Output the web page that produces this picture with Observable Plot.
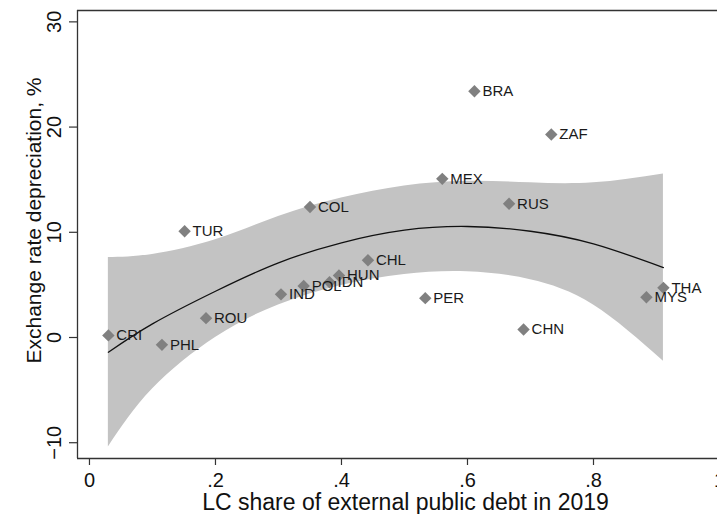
<!DOCTYPE html>
<html><head><meta charset="utf-8">
<script src="https://cdn.jsdelivr.net/npm/d3@7"></script>
<script src="https://cdn.jsdelivr.net/npm/@observablehq/plot@0.6"></script>
<style>html,body{margin:0;padding:0;background:#fff;overflow:hidden}</style>
</head><body><div id="chart"></div>
<script>
const countries = ["CRI","PHL","ROU","TUR","IND","COL","POL","IDN","HUN","CHL","PER","MEX","BRA","RUS","CHN","ZAF","MYS","THA"];
const lcShare = [0.030,0.115,0.185,0.151,0.304,0.350,0.340,0.381,0.396,0.442,0.533,0.560,0.611,0.666,0.689,0.733,0.884,0.911];
const depreciation = [0.2,-0.7,1.84,10.1,4.1,12.4,4.9,5.26,5.89,7.35,3.74,15.08,23.41,12.71,0.76,19.3,3.83,4.72];

const fitX = [0.03,0.1,0.2,0.3,0.4,0.5,0.6,0.7,0.8,0.911];
const fitY = [-1.4,1.3,4.4,7.1,9.0,10.2,10.55,10.1,8.9,6.65];
const ciUpper = [7.6,7.9,9.3,11.5,13.25,14.4,14.85,14.7,14.7,15.55];
const ciLower = [-10.4,-4.9,0.0,3.1,4.95,6.0,6.25,5.5,3.1,-2.25];

const xTicks = [0,0.2,0.4,0.6,0.8,1];
const xTickLabels = ["0",".2",".4",".6",".8","1"];
const yTicks = [-10,0,10,20,30];
const yTickLabels = ["\u221210","0","10","20","30"];
const xTitle = "LC share of external public debt in 2019";
const yTitle = "Exchange rate depreciation, %";

const points = countries.map((c,i)=>({c, x: lcShare[i], y: depreciation[i]}));
const fit = fitX.map((x,i)=>({x, y: fitY[i], lo: ciLower[i], hi: ciUpper[i]}));

const xDom = [-0.019, 1.0];
const yDom = [-11.5, 31.08];
const axisColor = "#333";

const chart = Plot.plot({
  width: 717,
  height: 514,
  marginLeft: 77,
  marginRight: 0,
  marginTop: 10,
  marginBottom: 56,
  style: {fontFamily: "'Liberation Sans', Arial, Helvetica, sans-serif", color: "#111", background: "#fff"},
  x: {domain: xDom, range: [77, 719]},
  y: {domain: yDom},
  marks: [
    Plot.areaY(fit, {x: "x", y1: "lo", y2: "hi", fill: "#c3c3c3", curve: "natural"}),
    Plot.line(fit, {x: "x", y: "y", stroke: "#111", strokeWidth: 1.3, curve: "natural"}),
    Plot.dot(points, {x: "x", y: "y", symbol: "diamond2", r: 5.6, fill: "#808080", stroke: "none"}),
    Plot.text(points, {x: "x", y: "y", text: "c", textAnchor: "start", dx: 8, fontSize: 15, fill: "#1a1a1a"}),
    Plot.ruleY([yDom[1], yDom[0]], {stroke: axisColor, strokeWidth: 1.3}),
    Plot.ruleX([xDom[0]], {stroke: axisColor, strokeWidth: 1.3}),
    Plot.axisX(xTicks, {tickFormat: d => xTickLabels[xTicks.indexOf(d)], tickSize: 7, tickPadding: 7, fontSize: 20, stroke: axisColor, strokeWidth: 1.2, label: null}),
    Plot.axisY(yTicks, {tickFormat: d => yTickLabels[yTicks.indexOf(d)], tickSize: 8, tickPadding: 9, tickRotate: -90, fontSize: 20, stroke: axisColor, strokeWidth: 1.2, label: null}),
    Plot.text([xTitle], {text: d => d, frameAnchor: "bottom", dy: 51, dx: 8, lineAnchor: "bottom", textAnchor: "middle", fontSize: 23, fill: "#111"}),
    Plot.text([yTitle], {text: d => d, frameAnchor: "left", rotate: -90, lineAnchor: "bottom", textAnchor: "middle", dx: -37, dy: -14, fontSize: 21, fill: "#111"})
  ]
});
document.getElementById("chart").appendChild(chart);
</script>
</body></html>
